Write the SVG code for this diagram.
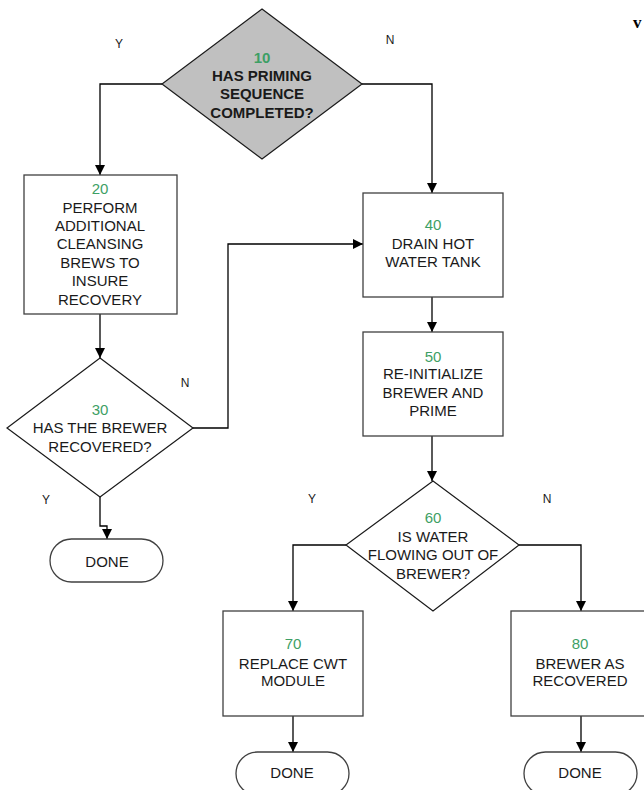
<svg xmlns="http://www.w3.org/2000/svg" width="644" height="790" viewBox="0 0 644 790">
<style>
text{font-family:"Liberation Sans",Arial,sans-serif;font-size:15px;fill:#1a1a1a;text-anchor:middle;dominant-baseline:central}
.num{fill:#3d9f65}
.b{font-weight:bold}
.lbl{font-size:12px}
.box{fill:#fff;stroke:#404040;stroke-width:1.3}
.dia{fill:#fff;stroke:#1a1a1a;stroke-width:1.2}
.con{fill:none;stroke:#000;stroke-width:1.3}
</style>
<defs>
<marker id="ah" viewBox="0 0 10 10" refX="10" refY="5" markerWidth="10" markerHeight="10" markerUnits="userSpaceOnUse" orient="auto">
<path d="M0,0 L10,5 L0,10 z" fill="#000"/>
</marker>
</defs>
<rect width="644" height="790" fill="#fff"/>
<g id="connectors">
<polyline class="con" points="162,84 100,84 100,175" marker-end="url(#ah)"/>
<polyline class="con" points="362,84 432,84 432,193" marker-end="url(#ah)"/>
<polyline class="con" points="100,314 100,358" marker-end="url(#ah)"/>
<polyline class="con" points="193,428 228,428 228,244 363,244" marker-end="url(#ah)"/>
<polyline class="con" points="100,497 100,526 107,526 107,539" marker-end="url(#ah)"/>
<polyline class="con" points="432,297 432,332" marker-end="url(#ah)"/>
<polyline class="con" points="432,436 432,481" marker-end="url(#ah)"/>
<polyline class="con" points="346,545 293,545 293,611" marker-end="url(#ah)"/>
<polyline class="con" points="519,545 581,545 581,611" marker-end="url(#ah)"/>
<polyline class="con" points="293,716 293,752" marker-end="url(#ah)"/>
<polyline class="con" points="581,716 581,752" marker-end="url(#ah)"/>
<text class="lbl" x="119" y="44">Y</text>
<text class="lbl" x="390" y="40">N</text>
<text class="lbl" x="185" y="383">N</text>
<text class="lbl" x="46" y="500">Y</text>
<text class="lbl" x="312" y="499">Y</text>
<text class="lbl" x="547" y="499">N</text>
</g>
<g id="n10">
<polygon points="262,9 362,84 262,159 162,84" fill="#c0c0c0" stroke="#1a1a1a" stroke-width="1.2"/>
<text class="b num" x="262" y="57">10</text>
<text class="b" x="262" y="75">HAS PRIMING</text>
<text class="b" x="262" y="93">SEQUENCE</text>
<text class="b" x="262" y="112">COMPLETED?</text>
</g>
<g id="n20">
<rect class="box" x="24" y="175" width="153" height="139"/>
<text class="num" x="100" y="188">20</text>
<text x="100" y="207">PERFORM</text>
<text x="100" y="225">ADDITIONAL</text>
<text x="100" y="243">CLEANSING</text>
<text x="100" y="262">BREWS TO</text>
<text x="100" y="280">INSURE</text>
<text x="100" y="299">RECOVERY</text>
</g>
<g id="n30">
<polygon class="dia" points="100,358 193,428 100,497 7,428"/>
<text class="num" x="100" y="409">30</text>
<text x="100" y="427">HAS THE BREWER</text>
<text x="100" y="446">RECOVERED?</text>
</g>
<g id="done1">
<rect class="box" x="50" y="539" width="113" height="43" rx="21.5"/>
<text x="107" y="561">DONE</text>
</g>
<g id="n40">
<rect class="box" x="363" y="193" width="140" height="104"/>
<text class="num" x="433" y="224">40</text>
<text x="433" y="243">DRAIN HOT</text>
<text x="433" y="261">WATER TANK</text>
</g>
<g id="n50">
<rect class="box" x="363" y="332" width="140" height="104"/>
<text class="num" x="433" y="356">50</text>
<text x="433" y="373">RE-INITIALIZE</text>
<text x="433" y="392">BREWER AND</text>
<text x="433" y="410">PRIME</text>
</g>
<g id="n60">
<polygon class="dia" points="433,481 519,545 433,611 346,545"/>
<text class="num" x="433" y="517">60</text>
<text x="433" y="536">IS WATER</text>
<text x="433" y="554">FLOWING OUT OF</text>
<text x="433" y="573">BREWER?</text>
</g>
<g id="n70">
<rect class="box" x="223" y="611" width="140" height="105"/>
<text class="num" x="293" y="643">70</text>
<text x="293" y="663">REPLACE CWT</text>
<text x="293" y="680">MODULE</text>
</g>
<g id="n80">
<rect class="box" x="511" y="611" width="140" height="105"/>
<text class="num" x="580" y="643">80</text>
<text x="580" y="663">BREWER AS</text>
<text x="580" y="680">RECOVERED</text>
</g>
<g id="done2">
<rect class="box" x="236" y="752" width="113" height="43" rx="21.5"/>
<text x="292" y="772">DONE</text>
</g>
<g id="done3">
<rect class="box" x="524" y="752" width="113" height="43" rx="21.5"/>
<text x="580" y="772">DONE</text>
</g>
<text x="633" y="28" style="font-family:'Liberation Serif','Times New Roman',serif;font-size:17px;font-weight:bold;text-anchor:start;dominant-baseline:auto;fill:#000">v</text>
</svg>
